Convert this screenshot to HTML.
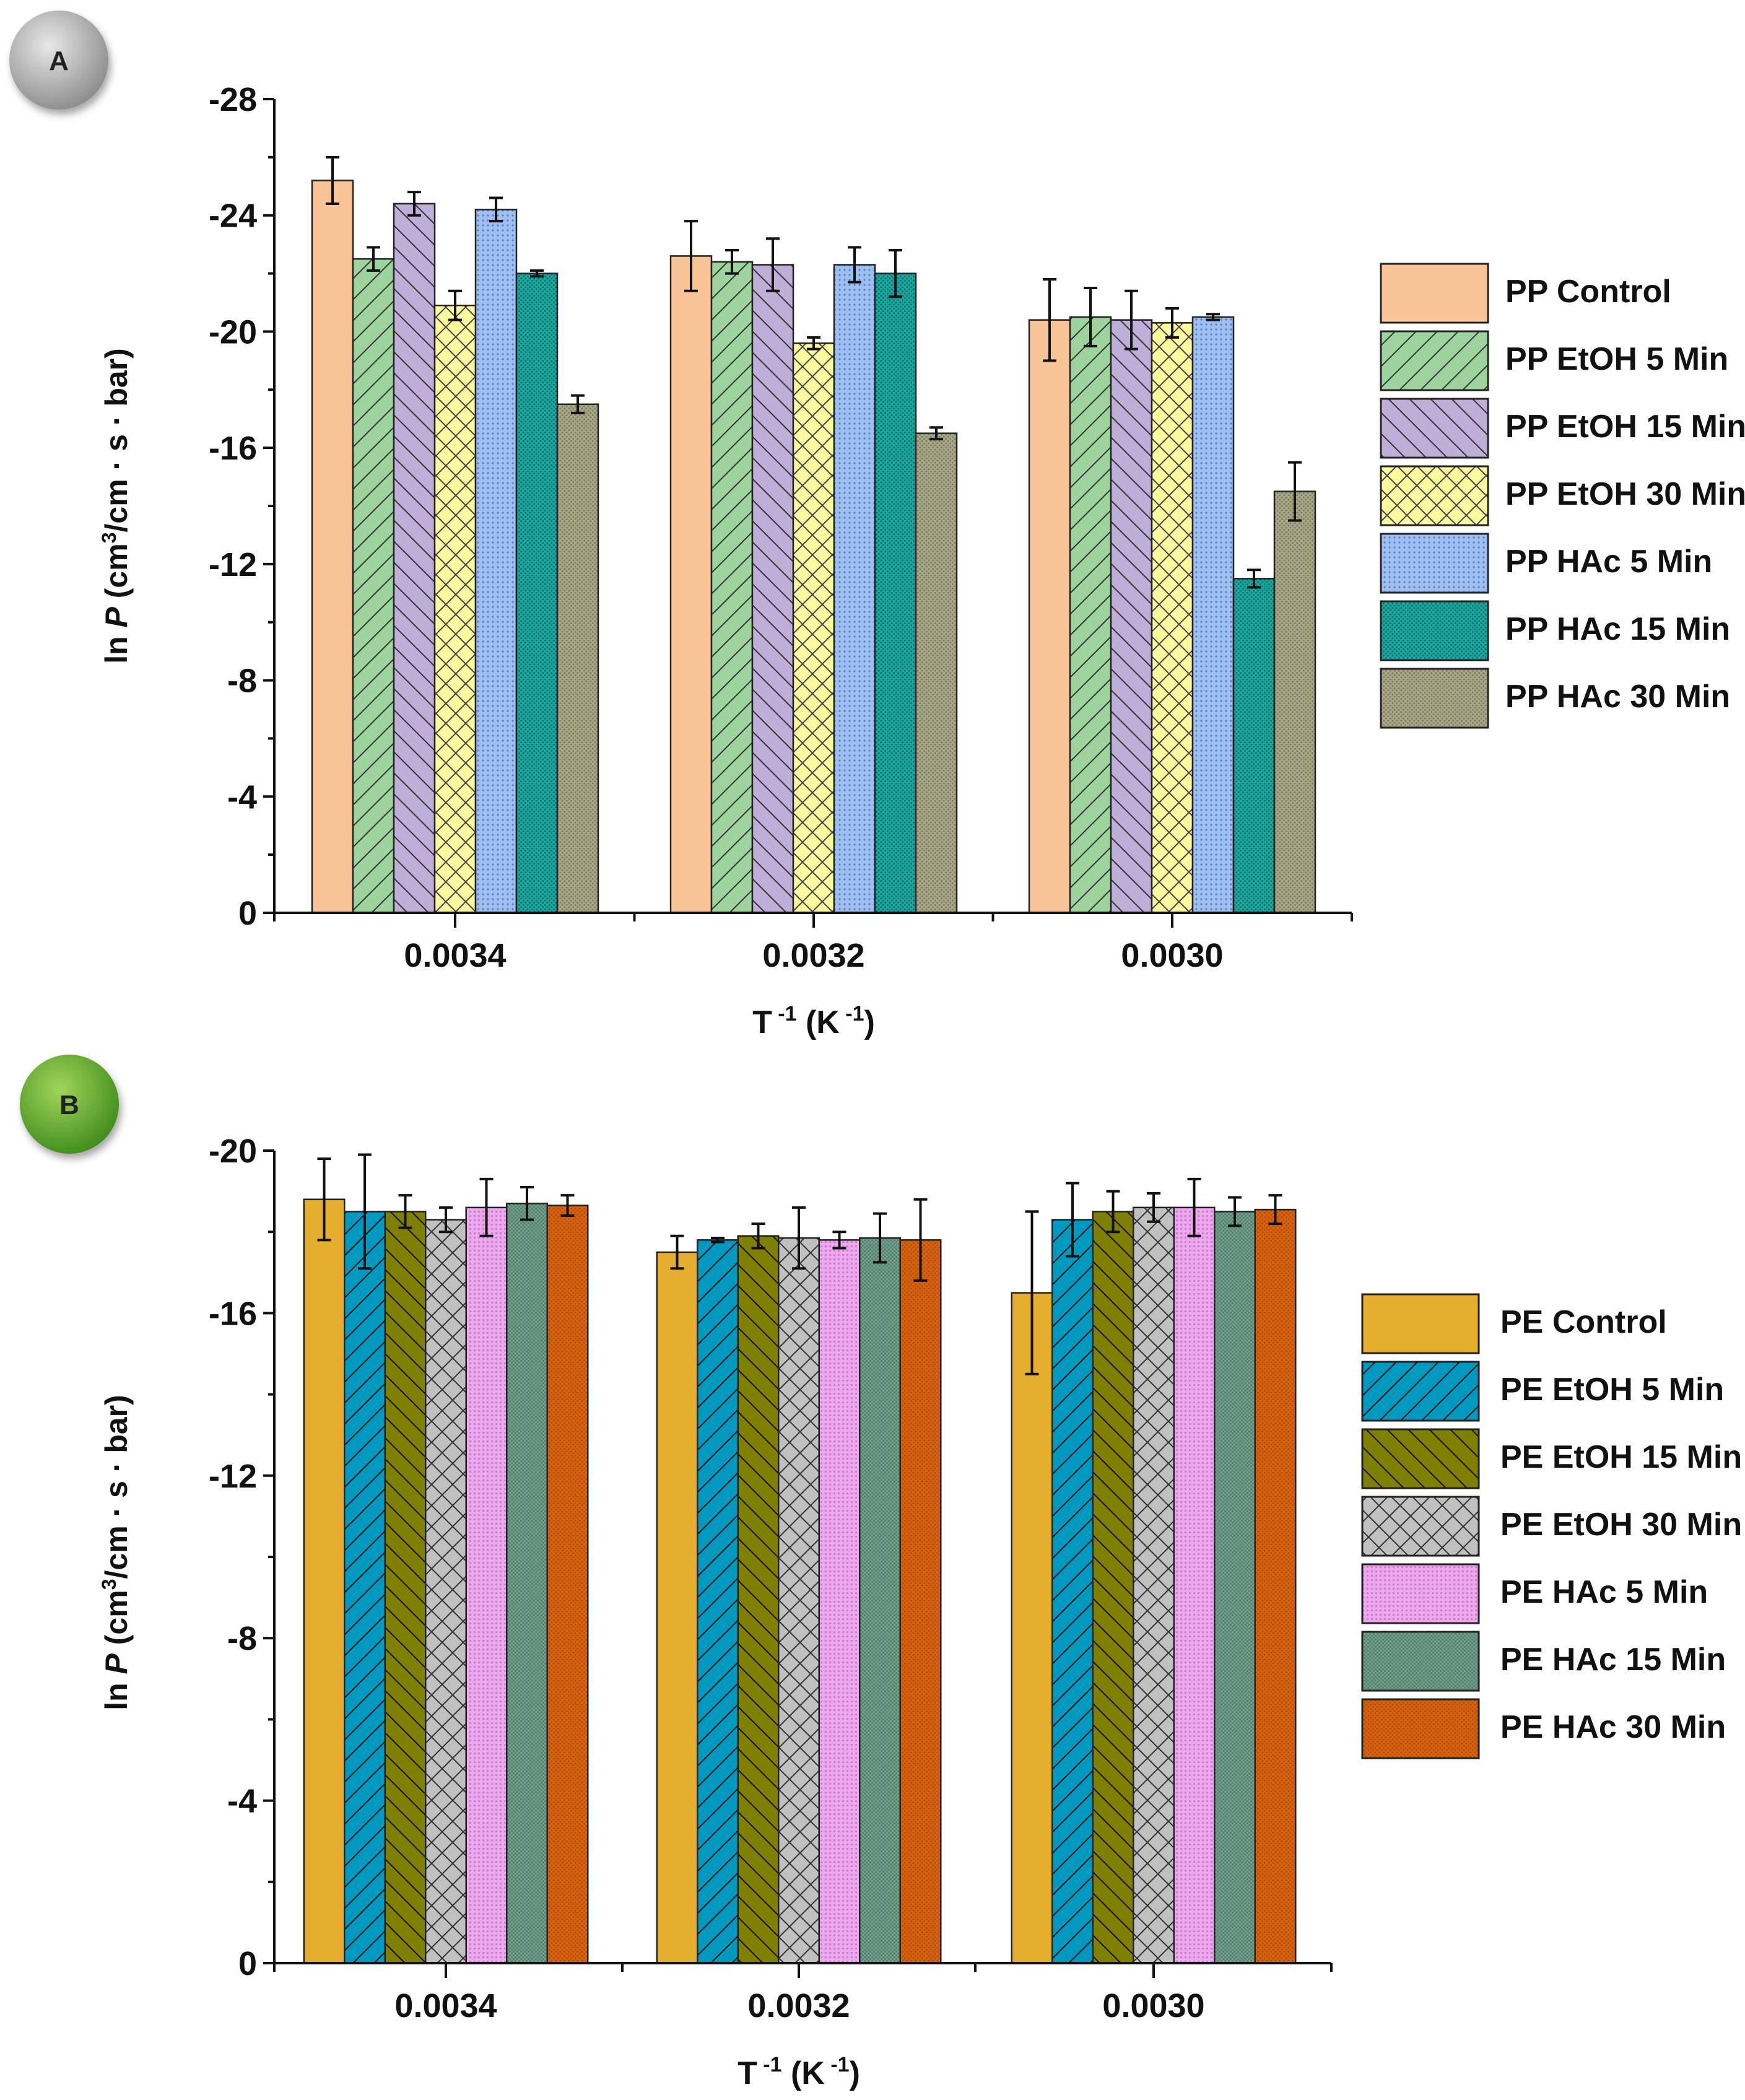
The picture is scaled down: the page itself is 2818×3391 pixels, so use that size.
<!DOCTYPE html>
<html><head><meta charset="utf-8"><style>
html,body{margin:0;padding:0;background:#fff;}
svg{display:block;font-family:"Liberation Sans",sans-serif;}
</style></head><body>
<svg id="chart" width="2818" height="3391" viewBox="0 0 2818 3391" xmlns="http://www.w3.org/2000/svg">
<defs>
<radialGradient id="gGray" cx="40%" cy="35%" r="70%"><stop offset="0" stop-color="#e8e8e8"/><stop offset="1" stop-color="#8a8a8a"/></radialGradient>
<radialGradient id="gGreen" cx="40%" cy="35%" r="70%"><stop offset="0" stop-color="#9fd65a"/><stop offset="1" stop-color="#3f8a1c"/></radialGradient>
<filter id="sh" x="-30%" y="-30%" width="160%" height="160%"><feDropShadow dx="4" dy="8" stdDeviation="6" flood-opacity="0.35"/></filter>
</defs>
</svg>
<script>
const NS='http://www.w3.org/2000/svg';
const svg=document.getElementById('chart');
const defs=svg.querySelector('defs');

// ---- Data ----
const categoriesA=['0.0034','0.0032','0.0030'];
const seriesNamesA=['PP Control','PP EtOH 5 Min','PP EtOH 15 Min','PP EtOH 30 Min','PP HAc 5 Min','PP HAc 15 Min','PP HAc 30 Min'];
const valuesA=[[25.2,22.6,20.4],[22.5,22.4,20.5],[24.4,22.3,20.4],[20.9,19.6,20.3],[24.2,22.3,20.5],[22.0,22.0,11.5],[17.5,16.5,14.5]];
const errorsA=[[0.8,1.2,1.4],[0.4,0.4,1.0],[0.4,0.9,1.0],[0.5,0.2,0.5],[0.4,0.6,0.1],[0.1,0.8,0.3],[0.3,0.2,1.0]];
const yTicksA=[0,4,8,12,16,20,24,28];

const categoriesB=['0.0034','0.0032','0.0030'];
const seriesNamesB=['PE Control','PE EtOH 5 Min','PE EtOH 15 Min','PE EtOH 30 Min','PE HAc 5 Min','PE HAc 15 Min','PE HAc 30 Min'];
const valuesB=[[18.8,17.5,16.5],[18.5,17.8,18.3],[18.5,17.9,18.5],[18.3,17.85,18.6],[18.6,17.8,18.6],[18.7,17.85,18.5],[18.65,17.8,18.55]];
const errorsB=[[1.0,0.4,2.0],[1.4,0.05,0.9],[0.4,0.3,0.5],[0.3,0.75,0.35],[0.7,0.2,0.7],[0.4,0.6,0.35],[0.25,1.0,0.35]];
const yTicksB=[0,4,8,12,16,20];

function el(tag,attrs,parent){const e=document.createElementNS(NS,tag);for(const k in attrs)e.setAttribute(k,attrs[k]);(parent||svg).appendChild(e);return e;}

function pattern(id,bg,kind,fg,size){
  const p=el('pattern',{id:id,patternUnits:'userSpaceOnUse',width:size,height:size},defs);
  el('rect',{x:0,y:0,width:size,height:size,fill:bg},p);
  const s=size;
  if(kind==='fwd'){el('path',{d:`M0,${s} L${s},0 M${-s/2},${s/2} L${s/2},${-s/2} M${s/2},${s*1.5} L${s*1.5},${s/2}`,stroke:fg,'stroke-width':2},p);}
  if(kind==='back'){el('path',{d:`M0,0 L${s},${s} M${-s/2},${s/2} L${s/2},${s*1.5} M${s/2},${-s/2} L${s*1.5},${s/2}`,stroke:fg,'stroke-width':2},p);}
  if(kind==='cross'){el('path',{d:`M0,0 L${s},${s} M0,${s} L${s},0`,stroke:fg,'stroke-width':2},p);}
  if(kind==='dots'){el('circle',{cx:s/2,cy:s/2,r:1.6,fill:fg},p);}
  if(kind==='dense'){el('circle',{cx:s/4,cy:s/4,r:1.5,fill:fg},p);el('circle',{cx:3*s/4,cy:3*s/4,r:1.5,fill:fg},p);}
}
const fillsA=[['#F9C596','none'],['#9DD49D','fwd','#333',34],['#BFAFD8','back','#333',34],['#FFFA9E','cross','#444',32],['#9EBFEF','dots','#5a7fc0',8],['#19A9A0','dense','#0b6f69',7],['#A8A888','dense','#7d7d60',7]];
const fillsB=[['#E6AE2F','none'],['#0099C0','fwd','#111',34],['#7F7F00','back','#111',34],['#C0C0C0','cross','#333',34],['#EEA6EE','dots','#c47fc4',7],['#6F9E8A','dense','#557e6c',6],['#D8620E','dense','#b04e08',7]];
function mkFills(list,prefix){return list.map((f,i)=>{if(f[1]==='none')return f[0];const id=prefix+i;pattern(id,f[0],f[1],f[2],f[3]);return `url(#${id})`;});}
const fA=mkFills(fillsA,'pa'),fB=mkFills(fillsB,'pb');

function drawChart(cfg){
  const g=el('g',{});
  
  
  const yScale=v=>cfg.y0-(v/cfg.ymax)*(cfg.y0-cfg.ytop);
  cfg.vals.forEach((ser,s)=>{ser.forEach((v,c)=>{
    const cx=cfg.centers[c];const x=cx-3.5*cfg.bw+s*cfg.bw;
    const r=el('rect',{x:x,y:yScale(v),width:cfg.bw,height:cfg.y0-yScale(v),fill:cfg.fills[s],stroke:'#222','stroke-width':2.5},g);
    
    
    const e=cfg.errs[s][c];const mx=x+cfg.bw/2;
    const eb=el('path',{d:`M${mx},${yScale(v+e)} L${mx},${yScale(v-e)} M${mx-11},${yScale(v+e)} L${mx+11},${yScale(v+e)} M${mx-11},${yScale(v-e)} L${mx+11},${yScale(v-e)}`,stroke:'#111','stroke-width':4,fill:'none'},g);
    
    
  });});
  const ax=el('path',{d:`M${cfg.xl},${cfg.ytop} L${cfg.xl},${cfg.y0} L${cfg.xr},${cfg.y0}`,stroke:'#111','stroke-width':4,fill:'none'},g);
  
  
  cfg.yticks.forEach((t,i)=>{
    const y=yScale(t);
    el('line',{x1:cfg.xl-18,x2:cfg.xl,y1:y,y2:y,stroke:'#111','stroke-width':4},g);
    if(i<cfg.yticks.length-1){const ym=yScale(t+(cfg.yticks[1]-cfg.yticks[0])/2);el('line',{x1:cfg.xl-10,x2:cfg.xl,y1:ym,y2:ym,stroke:'#111','stroke-width':4},g);}
    const tx=el('text',{x:cfg.xl-28,y:y+19,'text-anchor':'end','font-size':54,'font-weight':'bold',fill:'#111'},g);
    tx.textContent=t===0?'0':'-'+t;
    
    
  });
  const step=cfg.centers[1]-cfg.centers[0];
  [cfg.xl,cfg.centers[0]+step/2,cfg.centers[1]+step/2,cfg.xr].forEach(x=>el('line',{x1:x,x2:x,y1:cfg.y0,y2:cfg.y0+14,stroke:'#111','stroke-width':4},g));
  cfg.cats.forEach((c,i)=>{
    el('line',{x1:cfg.centers[i],x2:cfg.centers[i],y1:cfg.y0,y2:cfg.y0+24,stroke:'#111','stroke-width':4},g);
    const tx=el('text',{x:cfg.centers[i],y:cfg.y0+87,'text-anchor':'middle','font-size':54,'font-weight':'bold',fill:'#111'},g);
    tx.textContent=c;
    
    
  });
  const xt=el('text',{x:cfg.centers[1],y:cfg.xtY,'text-anchor':'middle','font-size':52,'font-weight':'bold',fill:'#111'},g);
  xt.innerHTML='T<tspan dy="-20" font-size="34"> -1</tspan><tspan dy="20"> (K</tspan><tspan dy="-20" font-size="34"> -1</tspan><tspan dy="20">)</tspan>';
  
  
  const yt=el('text',{x:0,y:0,transform:`translate(${cfg.ytX},${cfg.ytY}) rotate(-90)`,'text-anchor':'middle','font-size':50,'font-weight':'bold',fill:'#111'},g);
  yt.innerHTML='ln <tspan font-style="italic">P</tspan> (cm<tspan dy="-18" font-size="32">3</tspan><tspan dy="18">/cm · s · bar)</tspan>';
  
  
  cfg.series.forEach((n,i)=>{
    const y=cfg.legTop+i*109;
    const r=el('rect',{x:cfg.legX,y:y,width:cfg.legW,height:95,fill:cfg.fills[i],stroke:'#222','stroke-width':3},g);
    
    
    const t=el('text',{x:cfg.legTX,y:y+62,'font-size':52,'font-weight':'bold',fill:'#111'},g);
    t.textContent=n;
    
    
  });
}
drawChart({name:'chart-a',cats:categoriesA,series:seriesNamesA,vals:valuesA,errs:errorsA,yticks:yTicksA,ymax:28,fills:fA,
  xl:443,xr:2183,ytop:160,y0:1474,centers:[735,1314,1893],bw:66,xtY:1668,ytX:205,ytY:817,legX:2230,legW:173,legTop:426,legTX:2431});
drawChart({name:'chart-b',cats:categoriesB,series:seriesNamesB,vals:valuesB,errs:errorsB,yticks:yTicksB,ymax:20,fills:fB,
  xl:443,xr:2150,ytop:1858,y0:3170,centers:[720,1290,1863],bw:65.5,xtY:3365,ytX:205,ytY:2507,legX:2200,legW:188,legTop:2090,legTX:2423});

[['A','url(#gGray)',95,97],['B','url(#gGreen)',112,1783]].forEach(b=>{
  const g=el('g',{});
  
  
  el('circle',{cx:b[2],cy:b[3],r:80,fill:b[1],filter:'url(#sh)'},g);
  const t=el('text',{x:b[2],y:b[3]+16,'text-anchor':'middle','font-size':44,'font-weight':'bold',fill:'#222'},g);
  t.textContent=b[0];
});
</script>
</body></html>
